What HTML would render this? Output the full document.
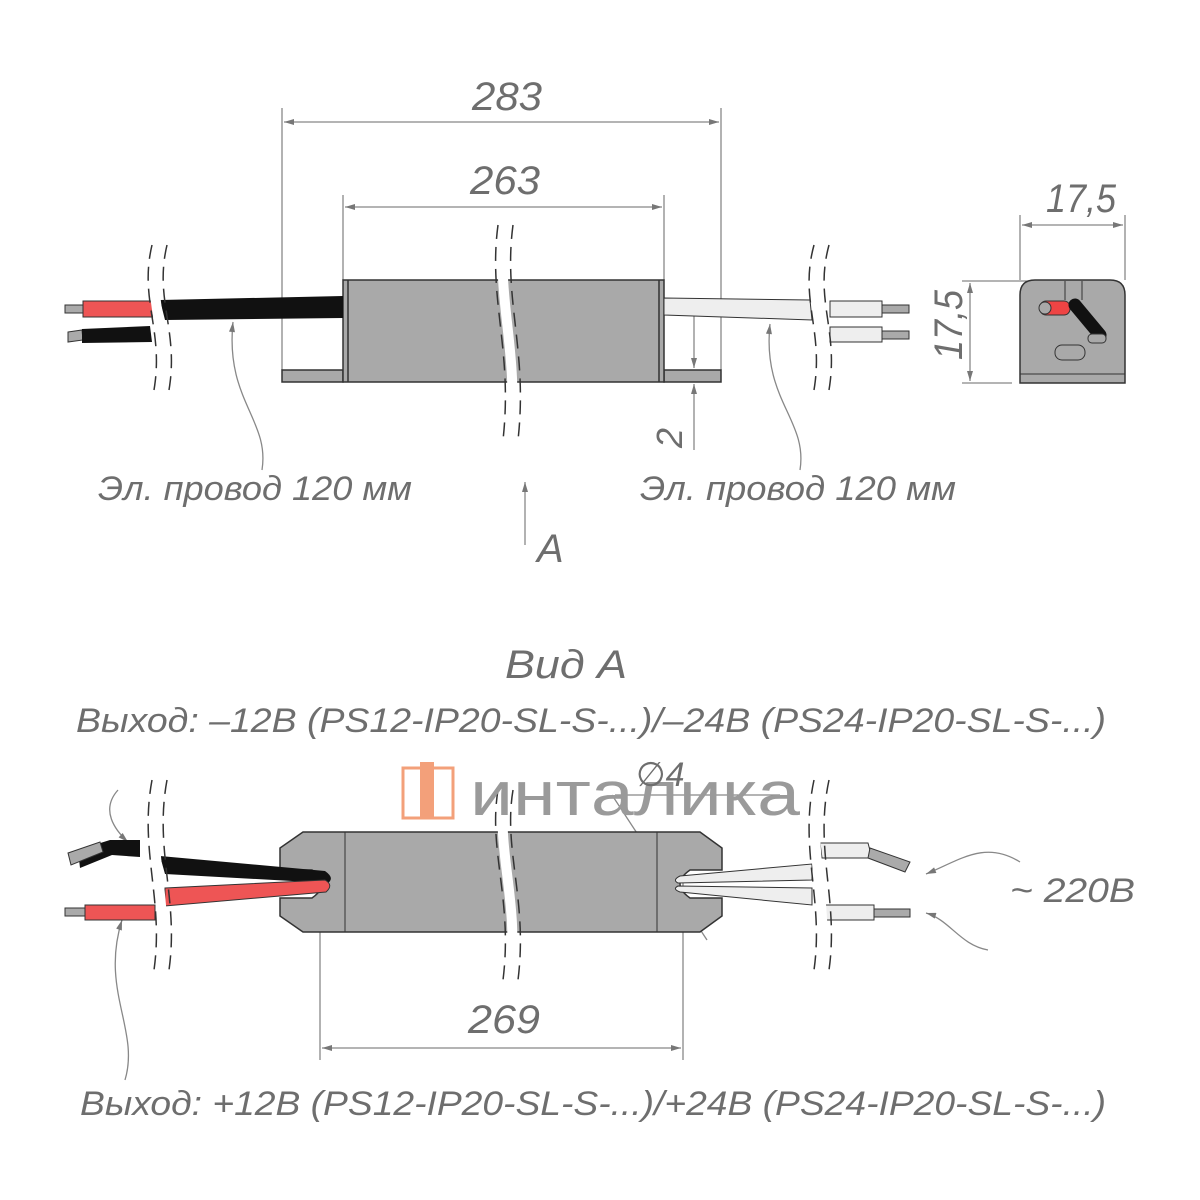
<!DOCTYPE html>
<html><head><meta charset="utf-8"><style>html,body{margin:0;background:#fff}svg{display:block}text{font-family:"Liberation Sans","DejaVu Sans",sans-serif;font-style:italic;fill:#6e6e6e}</style></head><body>
<svg width="1200" height="1200" viewBox="0 0 1200 1200" xmlns="http://www.w3.org/2000/svg">
<defs><marker id="ar" viewBox="0 0 10 6" refX="10" refY="3" markerWidth="14" markerHeight="6" orient="auto-start-reverse" markerUnits="userSpaceOnUse"><path d="M0,0L10,3L0,6z" fill="#777"/></marker></defs>
<g stroke="#888" stroke-width="1.3" fill="none">
<line x1="282" y1="108" x2="282" y2="370"/><line x1="721" y1="108" x2="721" y2="370"/>
<line x1="284" y1="122" x2="719" y2="122" marker-start="url(#ar)" marker-end="url(#ar)"/>
<line x1="343" y1="195" x2="343" y2="280"/><line x1="664" y1="195" x2="664" y2="280"/>
<line x1="345" y1="207" x2="662" y2="207" marker-start="url(#ar)" marker-end="url(#ar)"/>
<line x1="694" y1="300" x2="694" y2="368" marker-end="url(#ar)"/><line x1="694" y1="450" x2="694" y2="384" marker-end="url(#ar)"/>
<line x1="1020" y1="215" x2="1020" y2="280"/><line x1="1125" y1="215" x2="1125" y2="280"/>
<line x1="1022" y1="225" x2="1123" y2="225" marker-start="url(#ar)" marker-end="url(#ar)"/>
<line x1="962" y1="281" x2="1030" y2="281"/><line x1="962" y1="383" x2="1012" y2="383"/>
<line x1="970" y1="283" x2="970" y2="381" marker-start="url(#ar)" marker-end="url(#ar)"/>
<line x1="320" y1="858" x2="320" y2="1060"/><line x1="683" y1="858" x2="683" y2="1060"/>
<line x1="322" y1="1048" x2="681" y2="1048" marker-start="url(#ar)" marker-end="url(#ar)"/>
<line x1="525" y1="545" x2="525" y2="482" marker-end="url(#ar)"/>
<path d="M262,470 C270,420 225,400 233,322" marker-end="url(#ar)"/>
<path d="M800,470 C808,420 762,400 770,324" marker-end="url(#ar)"/>
<path d="M118,790 C100,810 115,830 128,842" marker-end="url(#ar)"/>
<path d="M125,1080 C140,1030 100,990 122,920" marker-end="url(#ar)"/>
<path d="M1020,862 C985,840 960,860 926,874" marker-end="url(#ar)"/>
<path d="M988,950 C960,945 950,920 926,913" marker-end="url(#ar)"/>
<path d="M612,795 L707,940"/><line x1="615" y1="795" x2="780" y2="795"/>
</g>
<g stroke="#333" stroke-width="1.5">
<path d="M282,370 L343,370 L343,382 L282,382Z M664,370 L721,370 L721,382 L664,382Z" fill="#a9a9a9"/>
<rect x="343" y="280" width="321" height="102" fill="#a9a9a9"/>
<line x1="348" y1="280" x2="348" y2="382"/><line x1="659" y1="280" x2="659" y2="382"/>
</g>
<rect x="65" y="305" width="18" height="8" fill="#aaa" stroke="#333"/>
<rect x="83" y="301" width="70" height="16" fill="#e55" stroke="#333"/>
<path d="M160,300 L343,296 L343,318 L165,320Z" fill="#111"/>
<path d="M68,332 L82,330 L83,340 L68,342Z" fill="#aaa" stroke="#333"/>
<path d="M82,329 L150,326 L152,342 L82,343Z" fill="#111"/>
<path d="M664,298 L810,300 L812,320 L664,315Z" fill="#eee" stroke="#333"/>
<rect x="830" y="301" width="52" height="16" fill="#eee" stroke="#333"/>
<rect x="882" y="305" width="27" height="8" fill="#aaa" stroke="#333"/>
<rect x="830" y="327" width="52" height="15" fill="#eee" stroke="#333"/>
<rect x="882" y="331" width="27" height="8" fill="#aaa" stroke="#333"/>
<path d="M1020,383 L1020,295 Q1020,280 1035,280 L1110,280 Q1125,280 1125,295 L1125,383Z" fill="#a9a9a9" stroke="#333" stroke-width="1.5"/>
<line x1="1020" y1="374" x2="1125" y2="374" stroke="#333"/>
<path d="M1065,281 L1065,300 M1082,281 L1082,300" stroke="#333"/>
<rect x="1040" y="301" width="30" height="14" rx="6" fill="#e44" stroke="#333"/>
<circle cx="1045" cy="308" r="6" fill="#a9a9a9" stroke="#333"/>
<path d="M1075,305 L1100,335" stroke="#111" stroke-width="13" stroke-linecap="round"/>
<rect x="1088" y="334" width="18" height="9" rx="4" fill="#a9a9a9" stroke="#333"/>
<rect x="1055" y="345" width="30" height="15" rx="7" fill="none" stroke="#333"/>
<path d="M303,832 L700,832 L722,848 L722,870 L690,870 Q670,884 690,898 L722,898 L722,916 L700,932 L303,932 L280,916 L280,898 L312,898 Q332,884 312,870 L280,870 L280,848Z" fill="#a9a9a9" stroke="#333" stroke-width="1.5"/>
<line x1="345" y1="832" x2="345" y2="932" stroke="#333"/><line x1="657" y1="832" x2="657" y2="932" stroke="#333"/>
<path d="M160,856 L325,871 Q335,878 328,883 L165,874Z" fill="#111"/>
<path d="M165,888 L325,880 Q334,885 326,892 L165,906Z" fill="#e55" stroke="#333"/>
<path d="M78,850 L110,840 L140,840 L140,857 L112,855 L80,868Z" fill="#111"/>
<path d="M68,853 L100,842 L103,852 L71,865Z" fill="#aaa" stroke="#333"/>
<rect x="65" y="908" width="20" height="8" fill="#aaa" stroke="#333"/>
<rect x="85" y="905" width="70" height="15" fill="#e55" stroke="#333"/>
<path d="M680,876 L812,864 L812,880 L678,883 Q672,880 680,876Z" fill="#eee" stroke="#333"/>
<path d="M678,886 L812,888 L812,905 L680,892 Q672,889 678,886Z" fill="#eee" stroke="#333"/>
<path d="M820,843 L868,843 L872,858 L822,858Z" fill="#eee" stroke="#333"/>
<path d="M870,848 L910,862 L905,872 L868,858Z" fill="#aaa" stroke="#333"/>
<rect x="822" y="905" width="52" height="15" fill="#eee" stroke="#333"/>
<rect x="874" y="909" width="36" height="8" fill="#aaa" stroke="#333"/>
<g fill="none" stroke="#fff" stroke-width="10">
<path d="M158,245 C145,300 170,330 160,390"/><path d="M820,245 C805,300 830,330 820,390"/>
<path d="M505,225 C495,300 520,350 510,440"/>
<path d="M158,780 C145,850 170,900 160,970"/><path d="M820,780 C805,850 830,900 820,970"/>
<path d="M505,790 C495,850 520,900 510,980"/>
</g>
<g fill="none" stroke="#333" stroke-width="1.5" stroke-dasharray="14,8">
<path d="M152,245 C139,300 164,330 154,390"/><path d="M167,245 C154,300 179,330 169,390"/>
<path d="M814,245 C799,300 824,330 814,390"/><path d="M829,245 C814,300 839,330 829,390"/>
<path d="M498,225 C488,300 513,350 503,440"/><path d="M513,225 C503,300 528,350 518,440"/>
<path d="M152,780 C139,850 164,900 154,970"/><path d="M167,780 C154,850 179,900 169,970"/>
<path d="M814,780 C799,850 824,900 814,970"/><path d="M829,780 C814,850 839,900 829,970"/>
<path d="M498,790 C488,850 513,900 503,980"/><path d="M513,790 C503,850 528,900 518,980"/>
</g>
<rect x="403" y="768" width="50" height="50" fill="none" stroke="#f3a07a" stroke-width="3"/>
<rect x="420" y="762" width="14" height="56" fill="#f3a07a"/>
<text x="470" y="815" font-size="62" style="font-style:normal;fill:#9a9a9a" textLength="330" lengthAdjust="spacingAndGlyphs">интaлика</text>
<g font-size="40">
<text x="472" y="110" textLength="70" lengthAdjust="spacingAndGlyphs">283</text>
<text x="470" y="194" textLength="70" lengthAdjust="spacingAndGlyphs">263</text>
<text x="1046" y="212" textLength="70" lengthAdjust="spacingAndGlyphs">17,5</text>
<text transform="translate(962,360) rotate(-90)" textLength="70" lengthAdjust="spacingAndGlyphs">17,5</text>
<text transform="translate(682,448) rotate(-90)" font-size="36">2</text>
<text x="468" y="1033" textLength="72" lengthAdjust="spacingAndGlyphs">269</text>
<text x="537" y="562">A</text>
<text x="505" y="678" textLength="122" lengthAdjust="spacingAndGlyphs">Вид А</text>
<text x="636" y="786" font-size="34">∅4</text>
</g>
<g font-size="34">
<text x="98" y="500" textLength="314" lengthAdjust="spacingAndGlyphs">Эл. провод 120 мм</text>
<text x="640" y="500" textLength="316" lengthAdjust="spacingAndGlyphs">Эл. провод 120 мм</text>
<text x="76" y="732" textLength="1030" lengthAdjust="spacingAndGlyphs">Выход: –12В (PS12-IP20-SL-S-...)/–24В (PS24-IP20-SL-S-...)</text>
<text x="80" y="1115" textLength="1026" lengthAdjust="spacingAndGlyphs">Выход: +12В (PS12-IP20-SL-S-...)/+24В (PS24-IP20-SL-S-...)</text>
<text x="1010" y="902" textLength="125" lengthAdjust="spacingAndGlyphs">~ 220В</text>
</g>
</svg>
</body></html>
